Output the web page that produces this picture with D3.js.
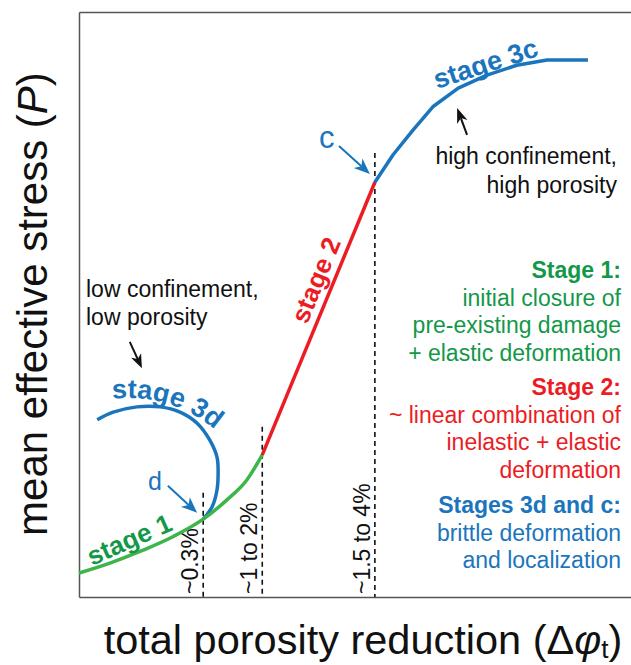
<!DOCTYPE html>
<html>
<head>
<meta charset="utf-8">
<script src="https://cdn.jsdelivr.net/npm/d3@7"></script>
<style>
  body { margin: 0; background: #fff; }
  svg { display: block; font-family: "Liberation Sans", Arial, Helvetica, sans-serif; }
</style>
</head>
<body>
<div id="chart"></div>
<script>
// Schematic compaction path: mean effective stress vs. total porosity reduction.
// Coordinates are in normalised units (0–100 on both axes).

const stage1Curve = [[0, 4.1], [5.6, 5.8], [11.6, 8.0], [17.0, 10.3], [22.5, 13.3], [26.8, 16.6], [30.4, 20.0], [33.2, 24.3]];
const stage2Curve = [[33.2, 24.3], [53.6, 70.9]];
const stage3cCurve = [[53.6, 70.9], [56.9, 75.6], [60.5, 79.8], [64.1, 83.8], [68.7, 87.0], [73.9, 89.2], [79.3, 90.9], [84.8, 91.8], [92.2, 91.8]];
const stage3dCurve = [[22.5, 13.3], [24.1, 15.4], [25.0, 18.3], [25.2, 21.7], [25.0, 23.9], [23.7, 26.8], [21.4, 29.7], [18.3, 31.6], [14.7, 32.5], [10.5, 32.5], [6.2, 31.6], [3.3, 30.3]];

const thresholdX = [22.5, 33.2, 53.6];
const thresholdTop = [17.8, 29.1, 75.9];
const thresholdLabels = ["~0.3%", "~1 to 2%", "~1.5 to 4%"];

const legendGroups = [
  { key: "s1", lines: ["Stage 1:", "initial closure of", "pre-existing damage", "+ elastic deformation"] },
  { key: "s2", lines: ["Stage 2:", "~ linear combination of", "inelastic + elastic", "deformation"] },
  { key: "s3", lines: ["Stages 3d and c:", "brittle deformation", "and localization"] }
];

const W = 631, H = 665;
const GREEN_LINE = "#3db54a";
const GREEN_TEXT = "#13984a";
const RED = "#ec1c24";
const BLUE = "#1b75bc";
const colorOf = { s1: GREEN_TEXT, s2: RED, s3: BLUE };

const svg = d3.select("#chart").append("svg")
  .attr("width", W).attr("height", H);

const x = d3.scaleLinear().domain([0, 100]).range([79, 631]);
const y = d3.scaleLinear().domain([0, 100]).range([597, 12]);

// Frame: left, bottom and top axis lines, no ticks
svg.append("g").attr("transform", `translate(0,${y(0)})`)
  .call(d3.axisBottom(x).tickValues([]).tickSizeOuter(0));
svg.append("g").attr("transform", `translate(0,${y(100)})`)
  .call(d3.axisTop(x).tickValues([]).tickSizeOuter(0));
svg.append("g").attr("transform", `translate(${x(0)},0)`)
  .call(d3.axisLeft(y).tickValues([]).tickSizeOuter(0));
svg.selectAll(".domain").attr("stroke", "#555").attr("stroke-width", 1.5);

// Threshold markers
svg.append("g").selectAll("line").data(thresholdX).join("line")
  .attr("x1", d => x(d)).attr("x2", d => x(d))
  .attr("y1", (d, i) => y(thresholdTop[i])).attr("y2", y(0))
  .attr("stroke", "#111").attr("stroke-width", 1.6)
  .attr("stroke-dasharray", "5,4");

svg.append("g").selectAll("text").data(thresholdLabels).join("text")
  .attr("transform", (d, i) => `translate(${x(thresholdX[i]) - 5},${y(0) - 3}) rotate(-90)`)
  .attr("font-size", 23).attr("fill", "#111")
  .text(d => d);

// Stress paths
const lineSmooth = d3.line().x(d => x(d[0])).y(d => y(d[1])).curve(d3.curveMonotoneX);
const lineStraight = d3.line().x(d => x(d[0])).y(d => y(d[1]));
const lineLoop = d3.line().x(d => x(d[0])).y(d => y(d[1])).curve(d3.curveCatmullRom.alpha(0.5));

const paths = svg.append("g").attr("fill", "none").attr("stroke-width", 3.5)
  .attr("stroke-linecap", "butt").attr("stroke-linejoin", "round");
paths.append("path").attr("d", lineLoop(stage3dCurve)).attr("stroke", BLUE);
paths.append("path").attr("d", lineSmooth(stage1Curve)).attr("stroke", GREEN_LINE);
paths.append("path").attr("d", lineStraight(stage2Curve)).attr("stroke", RED);
paths.append("path").attr("d", lineStraight(stage3cCurve)).attr("stroke", BLUE);

// Arrows (tail and tip in data units)
function arrow(t0, t1, color, headLen, headHalf) {
  const x0 = x(t0[0]), y0 = y(t0[1]), x1 = x(t1[0]), y1 = y(t1[1]);
  const a = Math.atan2(y1 - y0, x1 - x0);
  const ux = Math.cos(a), uy = Math.sin(a), nx = -uy, ny = ux;
  const bx = x1 - ux * headLen, by = y1 - uy * headLen;
  const notchX = x1 - ux * headLen * 0.72, notchY = y1 - uy * headLen * 0.72;
  const g = svg.append("g");
  g.append("line").attr("x1", x0).attr("y1", y0).attr("x2", notchX).attr("y2", notchY)
    .attr("stroke", color).attr("stroke-width", 2);
  g.append("path")
    .attr("d", `M${x1},${y1}L${bx + nx * headHalf},${by + ny * headHalf}L${notchX},${notchY}L${bx - nx * headHalf},${by - ny * headHalf}Z`)
    .attr("fill", color);
}
arrow([16.1, 19.0], [21.4, 14.4], BLUE, 16, 6.5);
arrow([47.1, 77.1], [52.7, 72.3], BLUE, 16, 6.5);
arrow([9.2, 43.6], [11.4, 39.1], "#111", 14, 5.5);
arrow([70.3, 79.0], [68.5, 83.6], "#111", 15, 5.5);

// Point labels
svg.append("text").attr("x", 148).attr("y", 490).attr("font-size", 25).attr("fill", BLUE).text("d");
svg.append("text").attr("x", 319).attr("y", 148).attr("font-size", 31).attr("fill", BLUE).text("c");

// Stage labels along the curves
svg.append("text").attr("transform", "translate(92,566) rotate(-24)")
  .attr("font-size", 26).attr("font-weight", "bold").attr("fill", GREEN_TEXT).text("stage 1");
svg.append("text").attr("transform", "translate(307,325) rotate(-67.5)")
  .attr("font-size", 26).attr("font-weight", "bold").attr("fill", RED).text("stage 2");
svg.append("text").attr("transform", "translate(437,89) rotate(-18)")
  .attr("font-size", 27).attr("font-weight", "bold").attr("fill", BLUE).text("stage 3c");

const arcPath = d3.path();
arcPath.arc(129, 530, 132, -98 * Math.PI / 180, -33 * Math.PI / 180, false);
svg.append("defs").append("path").attr("id", "arc3d").attr("d", arcPath.toString());
svg.append("text").attr("font-size", 27).attr("font-weight", "bold").attr("fill", BLUE)
  .append("textPath").attr("href", "#arc3d").attr("startOffset", 2).text("stage 3d");

// Confinement notes
const noteL = svg.append("text").attr("font-size", 23).attr("fill", "#111");
noteL.append("tspan").attr("x", 86).attr("y", 297).text("low confinement,");
noteL.append("tspan").attr("x", 86).attr("y", 325).text("low porosity");
const noteR = svg.append("text").attr("font-size", 23).attr("fill", "#111").attr("text-anchor", "end");
noteR.append("tspan").attr("x", 617).attr("y", 164).text("high confinement,");
noteR.append("tspan").attr("x", 617).attr("y", 193).text("high porosity");

// Stage descriptions
const groupStart = { s1: 278, s2: 395, s3: 513 };
legendGroups.forEach(gr => {
  const t = svg.append("text").attr("font-size", 23).attr("text-anchor", "end").attr("fill", colorOf[gr.key]);
  gr.lines.forEach((ln, i) => {
    t.append("tspan").attr("x", 621).attr("y", groupStart[gr.key] + i * 27.7)
      .attr("font-weight", i === 0 ? "bold" : "normal").text(ln);
  });
});

// Axis titles
const yt = svg.append("text").attr("transform", "translate(47,304) rotate(-90)")
  .attr("text-anchor", "middle").attr("font-size", 42).attr("fill", "#111");
yt.append("tspan").text("mean effective stress (");
yt.append("tspan").attr("font-style", "italic").text("P");
yt.append("tspan").text(")");

const xt = svg.append("text").attr("x", 363).attr("y", 654)
  .attr("text-anchor", "middle").attr("font-size", 41.5).attr("fill", "#111");
xt.append("tspan").text("total porosity reduction (Δ");
xt.append("tspan").attr("font-style", "italic").text("φ");
xt.append("tspan").attr("font-size", 26).attr("dy", 4).text("t");
xt.append("tspan").attr("dy", -4).text(")");
</script>
</body>
</html>
